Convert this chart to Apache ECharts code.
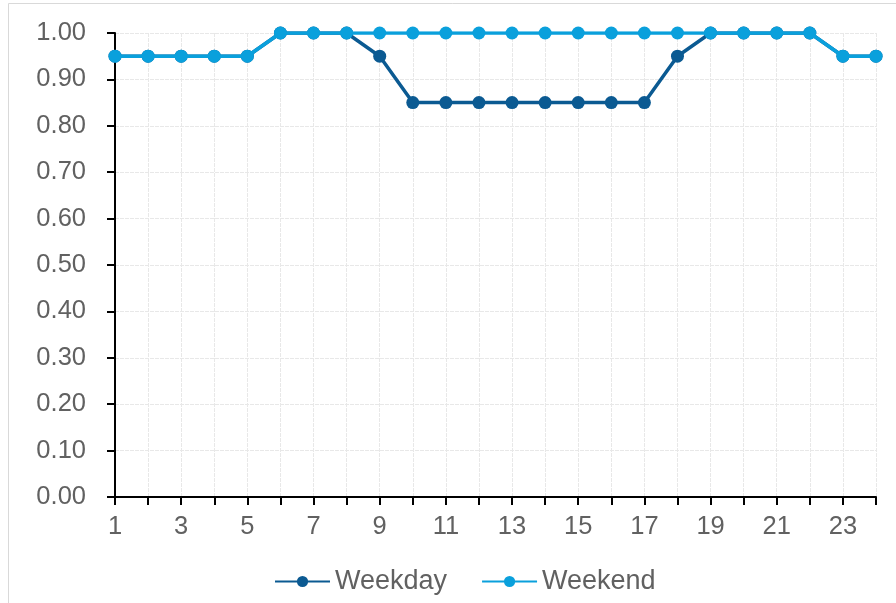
<!DOCTYPE html>
<html>
<head>
<meta charset="utf-8">
<script src="https://cdn.jsdelivr.net/npm/echarts@6/dist/echarts.min.js"></script>
<style>
  html, body { margin: 0; padding: 0; background: #fff; }
  #chart { width: 896px; height: 603px; }
</style>
</head>
<body>
<div id="chart"></div>
<script>
// Hours of the day
const hours = ['1','2','3','4','5','6','7','8','9','10','11','12','13','14','15','16','17','18','19','20','21','22','23','24'];

// Hourly factors
const weekday = [0.95,0.95,0.95,0.95,0.95,1.00,1.00,1.00,0.95,0.85,0.85,0.85,0.85,0.85,0.85,0.85,0.85,0.95,1.00,1.00,1.00,1.00,0.95,0.95];
const weekend = [0.95,0.95,0.95,0.95,0.95,1.00,1.00,1.00,1.00,1.00,1.00,1.00,1.00,1.00,1.00,1.00,1.00,1.00,1.00,1.00,1.00,1.00,0.95,0.95];

const seriesNames = ['Weekday', 'Weekend'];
const seriesColors = ['#0b5a92', '#0aa0dc'];

const chart = echarts.init(document.getElementById('chart'), null, { renderer: 'canvas' });

const fontFamily = 'Liberation Sans, Arial, sans-serif';
const labelFont = { color: '#616161', fontSize: 25.5, fontFamily: fontFamily };

chart.setOption({
  animation: false,
  backgroundColor: '#fff',
  graphic: [{
    type: 'rect',
    shape: { x: 8.5, y: 3.5, width: 900, height: 620 },
    style: { fill: 'none', stroke: '#d9d9d9', lineWidth: 1 },
    silent: true,
    z: -1
  }],
  grid: { left: 115, right: 20, top: 33, bottom: 106, containLabel: false },
  legend: {
    top: 563,
    left: 269,
    itemWidth: 55,
    itemHeight: 14,
    itemGap: 34,
    textStyle: { color: '#616161', fontSize: 27, fontFamily: fontFamily },
    data: seriesNames
  },
  xAxis: {
    type: 'category',
    data: hours,
    boundaryGap: false,
    axisLine: { lineStyle: { color: '#000', width: 2 } },
    axisTick: { show: true, interval: 0, length: 8, lineStyle: { color: '#000', width: 2 } },
    axisLabel: Object.assign({ interval: 1, margin: 17 }, labelFont),
    splitLine: { show: true, interval: 0, lineStyle: { color: '#e8e8e8', width: 1, type: [4, 1] } }
  },
  yAxis: {
    type: 'value',
    min: 0,
    max: 1,
    interval: 0.1,
    axisLine: { show: true, lineStyle: { color: '#000', width: 2 } },
    axisTick: { show: true, length: 8, lineStyle: { color: '#000', width: 2 } },
    axisLabel: Object.assign({ margin: 29, formatter: v => v.toFixed(2) }, labelFont),
    splitLine: { show: true, lineStyle: { color: '#e8e8e8', width: 1, type: [4, 1] } }
  },
  series: [
    {
      name: seriesNames[0],
      type: 'line',
      data: weekday,
      color: seriesColors[0],
      symbol: 'circle',
      symbolSize: 13,
      lineStyle: { width: 3.5 },
      z: 2
    },
    {
      name: seriesNames[1],
      type: 'line',
      data: weekend,
      color: seriesColors[1],
      symbol: 'circle',
      symbolSize: 13,
      lineStyle: { width: 3.5 },
      z: 3
    }
  ]
});
</script>
</body>
</html>
